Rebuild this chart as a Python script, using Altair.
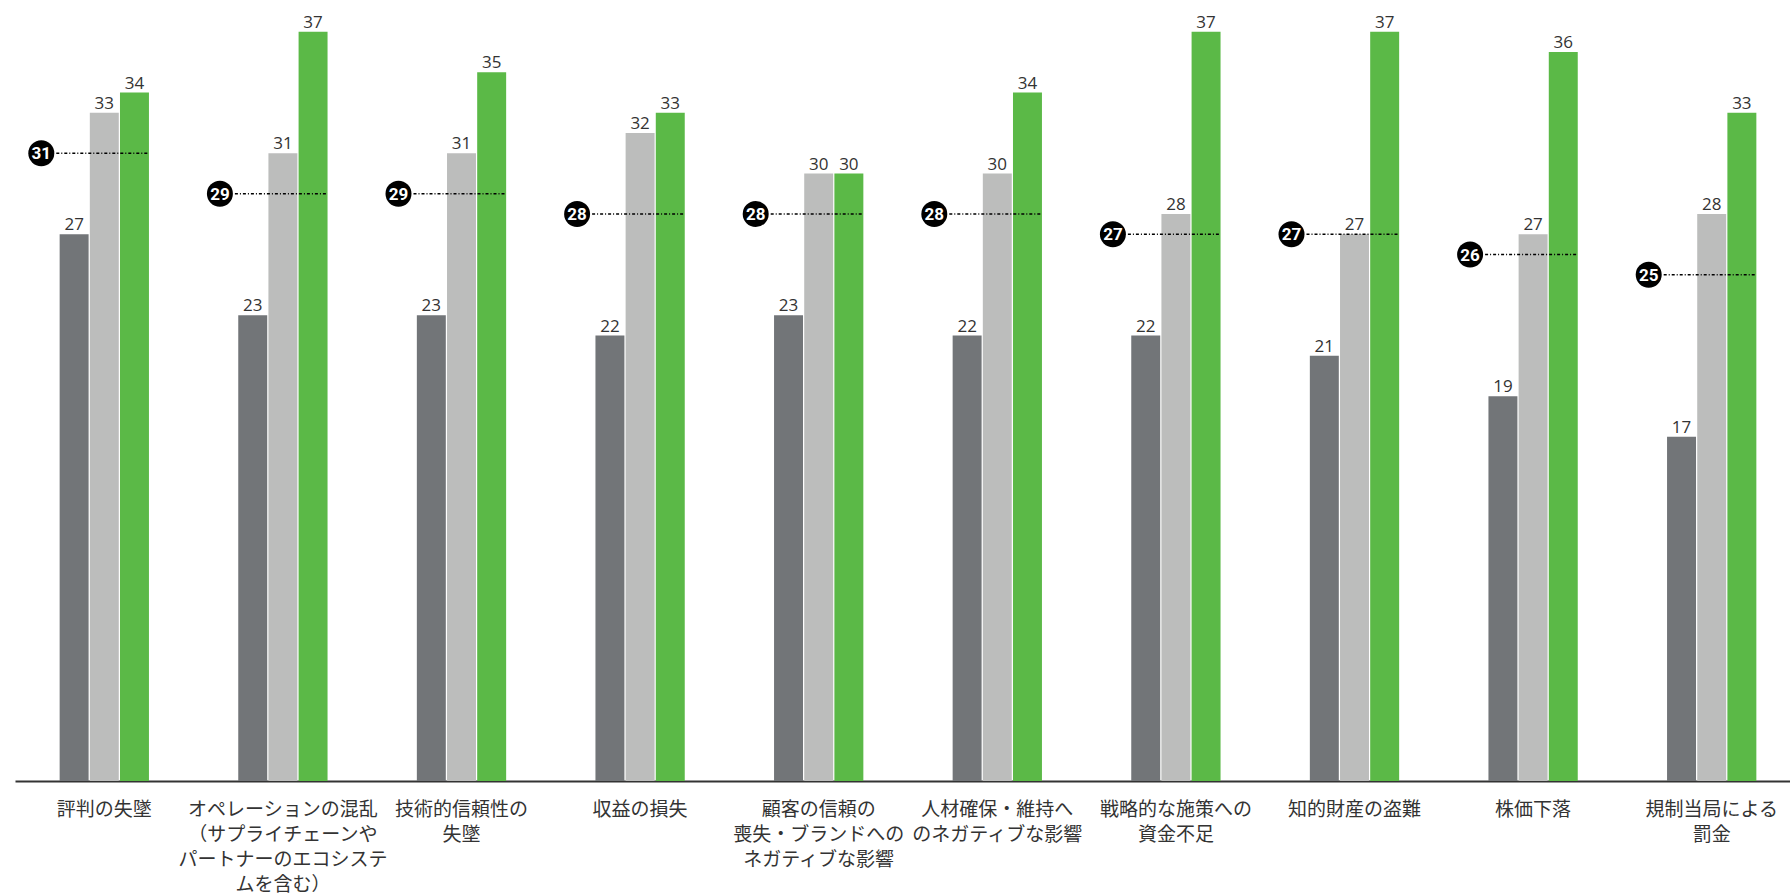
import altair as alt
import pandas as pd

label_lines = [
    ["評判の失墜"],
    ["オペレーションの混乱", "（サプライチェーンや", "パートナーのエコシステ", "ムを含む）"],
    ["技術的信頼性の", "失墜"],
    ["収益の損失"],
    ["顧客の信頼の", "喪失・ブランドへの", "ネガティブな影響"],
    ["人材確保・維持へ", "のネガティブな影響"],
    ["戦略的な施策への", "資金不足"],
    ["知的財産の盗難"],
    ["株価下落"],
    ["規制当局による", "罰金"],
]
categories = ["|".join(l) for l in label_lines]

series_names = ["系列1", "系列2", "系列3"]
series_dark = [27, 23, 23, 22, 23, 22, 22, 21, 19, 17]
series_light = [33, 31, 31, 32, 30, 30, 28, 27, 27, 28]
series_green = [34, 37, 35, 33, 30, 34, 37, 37, 36, 33]
average = [31, 29, 29, 28, 28, 28, 27, 27, 26, 25]
colors = ["#727578", "#bcbdbc", "#5bb947"]

rows = []
for name, vals in zip(series_names, [series_dark, series_light, series_green]):
    for c, v in zip(categories, vals):
        rows.append({"cat": c, "series": name, "value": v})
bars_df = pd.DataFrame(rows)
avg_df = pd.DataFrame({"cat": categories, "avg": average})

x_scale = alt.Scale(range=[0, 1786], paddingInner=0.5, paddingOuter=0.25)
x_axis = alt.Axis(
    title=None, labelAngle=0, ticks=False, domainColor="#333333", domainWidth=2,
    labelFont="Noto Sans CJK JP", labelFontSize=19, labelColor="#333333",
    labelLineHeight=25, labelPadding=19, labelExpr="split(datum.label, '|')",
    labelLimit=0, labelOverlap=False, labelBaseline="top",
)
x_enc = alt.X("cat:N", sort=categories, scale=x_scale, axis=x_axis)
y_enc = alt.Y("value:Q", scale=alt.Scale(domain=[0, 38.57], nice=False, zero=True), axis=None)
xo_enc = alt.XOffset("series:N", sort=series_names,
                     scale=alt.Scale(paddingInner=0.04, paddingOuter=0))

bars = alt.Chart(bars_df).mark_bar().encode(
    x=x_enc, y=y_enc, xOffset=xo_enc,
    color=alt.Color("series:N", scale=alt.Scale(domain=series_names, range=colors), legend=None),
)
bar_labels = alt.Chart(bars_df).mark_text(
    baseline="alphabetic", dy=-4, fontSize=17, font="Open Sans", color="#333333"
).encode(x=x_enc, y=y_enc, xOffset=xo_enc, text="value:Q")

avg_y = alt.Y("avg:Q", scale=alt.Scale(domain=[0, 38.57], nice=False, zero=True), axis=None)
rule = alt.Chart(avg_df).mark_rule(
    color="#000000", strokeWidth=1.6, strokeDash=[3, 2, 1, 2], xOffset=-48, x2Offset=44.6
).encode(
    x=alt.X("cat:N", sort=categories, bandPosition=0.5),
    x2=alt.X2("cat", bandPosition=0.5),
    y=avg_y,
)
circles = alt.Chart(avg_df).mark_circle(
    size=675, color="#000000", opacity=1, xOffset=-63
).encode(x=alt.X("cat:N", sort=categories, bandPosition=0.5), y=avg_y)
circle_text = alt.Chart(avg_df).mark_text(
    color="#ffffff", fontSize=17, fontWeight="bold", font="Roboto",
    baseline="middle", align="center", xOffset=-63, dy=1
).encode(x=alt.X("cat:N", sort=categories, bandPosition=0.5), y=avg_y, text="avg:Q")

chart = alt.layer(bars, bar_labels, rule, circles, circle_text).properties(
    width=1775, height=781,
    autosize=alt.AutoSizeParams(type="none"),
    padding={"left": 15, "top": 0, "right": 0, "bottom": 115},
).configure_view(stroke=None)

chart.save("out.html", embed_options={"renderer": "svg", "actions": False})
